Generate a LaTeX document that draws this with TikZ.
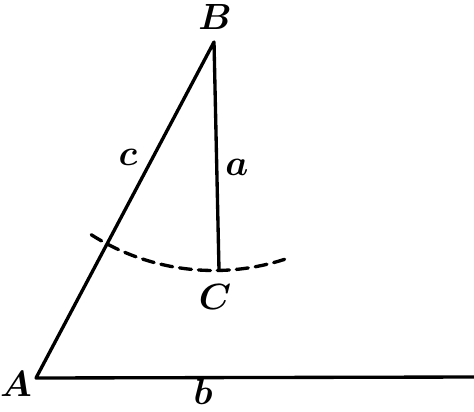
\documentclass[tikz,border=0pt]{standalone}
\usepackage{amsmath,amssymb}
\usepackage{tikz}

\tikzset{
  side/.style={line width=1.9pt, line cap=round, line join=round},
  lbl/.style={font=\fontsize{20}{24}\selectfont\boldmath, inner sep=0pt}
}

\begin{document}
\begin{tikzpicture}
  \useasboundingbox (0,0) rectangle (9.48,8.22);

  \coordinate (A) at (0.72,0.66);
  \coordinate (B) at (4.28,7.38);
  \coordinate (C) at (4.38,2.82);
  \coordinate (E) at (9.48,0.68);

  \node[lbl] (lA) at (0.32,0.54) {$A$};
  \node[lbl] (lB) at (4.3,7.88) {$B$};
  \node[lbl] (lC) at (4.3,2.28) {$C$};
  \node[lbl] (la) at (4.74,4.88) {$a$};
  \node[lbl, anchor=base] (lb) at (4.06,0.14) {$b$};
  \node[lbl] (lc) at (2.56,5.08) {$c$};

  \draw[side] (E) -- (A) -- (B) -- (C);
  \draw[side, dash pattern=on 0.24cm off 0.14cm] (B) ++(237.5:4.57) arc (237.5:288:4.57);
\end{tikzpicture}
\end{document}
